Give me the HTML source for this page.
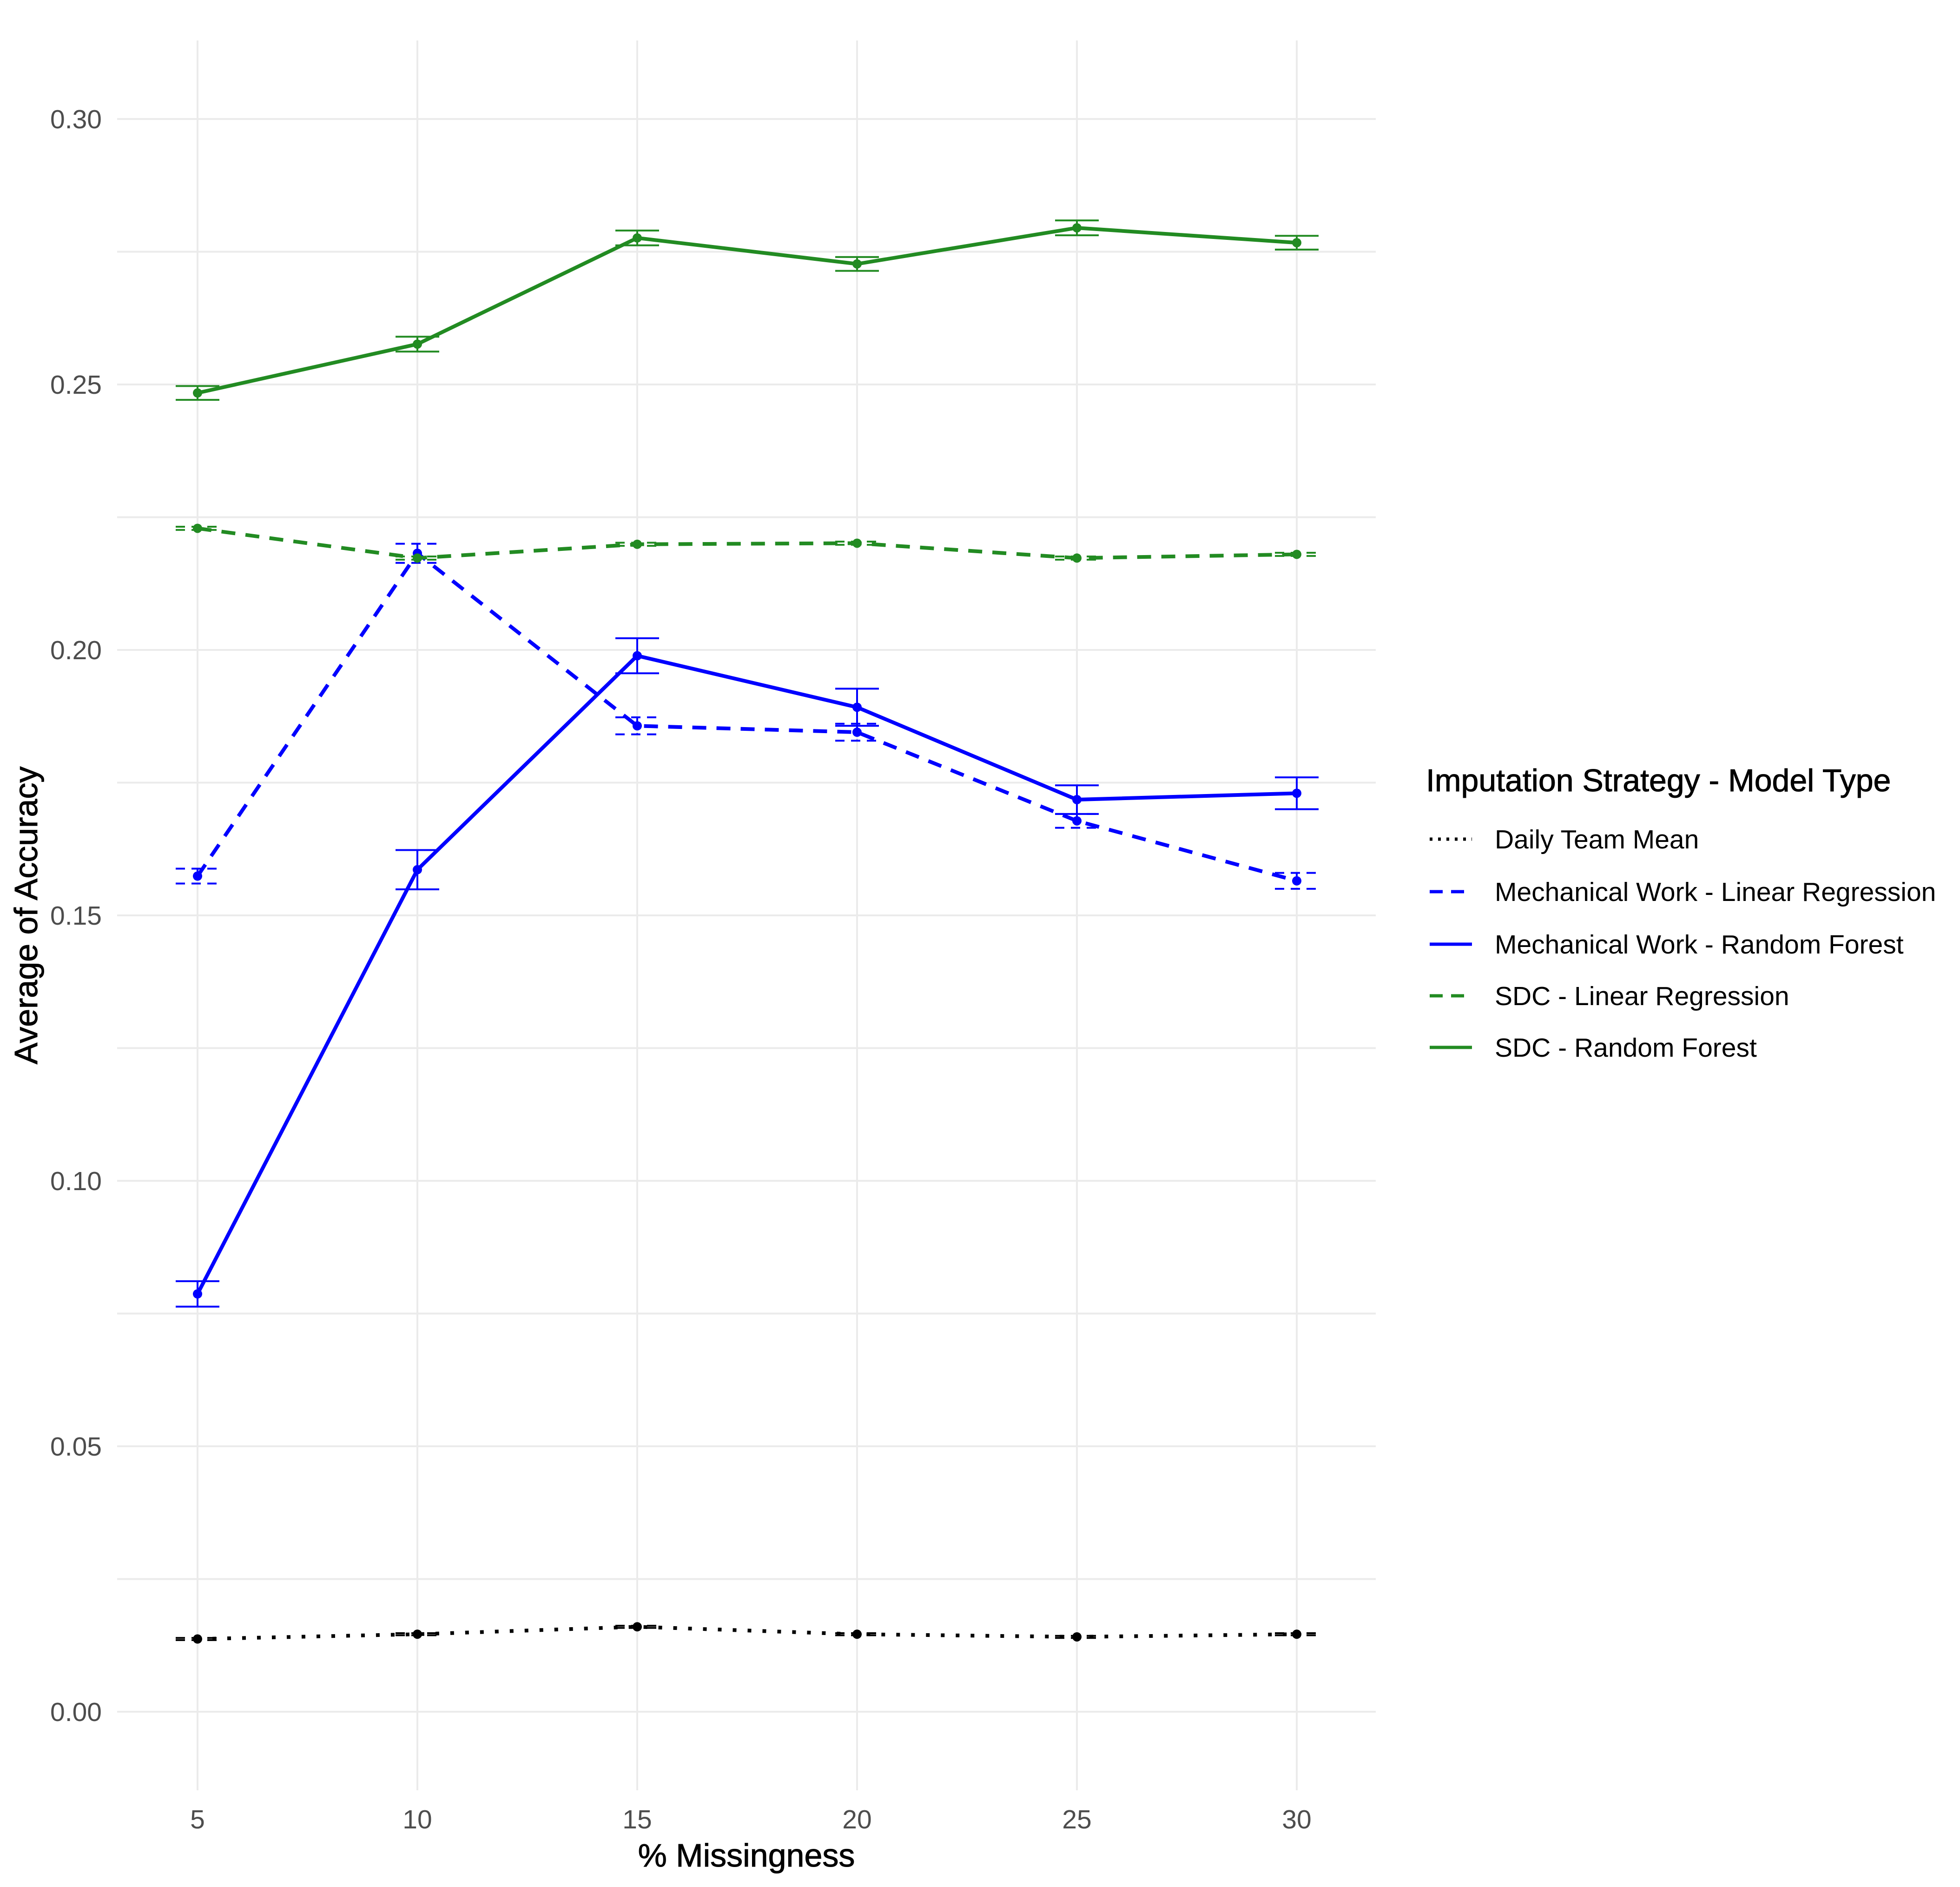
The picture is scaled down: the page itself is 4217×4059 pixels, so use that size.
<!DOCTYPE html>
<html><head><meta charset="utf-8"><style>
html,body{margin:0;padding:0;background:#fff;}
svg{display:block;font-family:"Liberation Sans",Arial,sans-serif;}
</style></head><body>
<svg id="chart" width="4217" height="4059" viewBox="0 0 4217 4059" xmlns="http://www.w3.org/2000/svg">
<rect width="4217" height="4059" fill="#fff"/>
<g id="grid"></g>
<g id="series"></g>
<g id="axes"></g>
<text x="1606" y="4015" font-size="70" text-anchor="middle" fill="#000" stroke="#000" stroke-width="1">% Missingness</text>
<text transform="translate(80,1969) rotate(-90)" font-size="70" text-anchor="middle" fill="#000" stroke="#000" stroke-width="1">Average of Accuracy</text>
<g id="legend"></g>
</svg>
<script>
const categories = [5, 10, 15, 20, 25, 30];
const yTicks = [0.00, 0.05, 0.10, 0.15, 0.20, 0.25, 0.30];
const yTickLabels = ["0.00","0.05","0.10","0.15","0.20","0.25","0.30"];
const seriesNames = ["Daily Team Mean","Mechanical Work - Linear Regression","Mechanical Work - Random Forest","SDC - Linear Regression","SDC - Random Forest"];
const dtmValues = [0.0137, 0.0146, 0.0160, 0.0146, 0.0141, 0.0146];
const dtmErr = [0.0002, 0.0002, 0.0002, 0.0002, 0.0002, 0.0002];
const mwlrValues = [0.1574, 0.2182, 0.1857, 0.1845, 0.1678, 0.1565];
const mwlrErr = [0.0014, 0.0018, 0.0016, 0.0016, 0.0013, 0.0015];
const mwrfValues = [0.0787, 0.1586, 0.1989, 0.1892, 0.1718, 0.1730];
const mwrfErr = [0.0024, 0.0037, 0.0033, 0.0035, 0.0027, 0.0030];
const sdclrValues = [0.2229, 0.2173, 0.2199, 0.2201, 0.2173, 0.2180];
const sdclrErr = [0.0003, 0.0003, 0.0003, 0.0003, 0.0003, 0.0003];
const sdcrfValues = [0.2484, 0.2576, 0.2776, 0.2727, 0.2795, 0.2767];
const sdcrfErr = [0.0013, 0.0014, 0.0014, 0.0013, 0.0014, 0.0013];

const NS = "http://www.w3.org/2000/svg";
const PL = 252, PR = 2960, PT = 87, PB = 3851;
function xs(v){ return 425 + (v - 5) * (2790 - 425) / 25; }
function ys(v){ return 3682 - v * (3682 - 256) / 0.30; }
function mk(tag, attrs, parent){ const e = document.createElementNS(NS, tag); for (const k in attrs) e.setAttribute(k, attrs[k]); parent.appendChild(e); return e; }

const grid = document.getElementById('grid');
for (let v = 0; v <= 0.3251; v += 0.025) {
  const y = ys(v);
  if (y < PT || y > PB) continue;
  const l = mk('line', {x1: PL, x2: PR, y1: y, y2: y, stroke: '#ebebeb', 'stroke-width': 4}, grid);
  
  
}
categories.forEach(c => {
  const l = mk('line', {x1: xs(c), x2: xs(c), y1: PT, y2: PB, stroke: '#ebebeb', 'stroke-width': 4}, grid);
  
  
});

const axes = document.getElementById('axes');
yTicks.forEach((t, i) => {
  const tx = mk('text', {x: 219, y: ys(t) + 20, 'font-size': 57, 'text-anchor': 'end', fill: '#4d4d4d'}, axes);
  tx.textContent = yTickLabels[i];
  
  
});
categories.forEach(c => {
  const tx = mk('text', {x: xs(c), y: 3933, 'font-size': 57, 'text-anchor': 'middle', fill: '#4d4d4d'}, axes);
  tx.textContent = String(c);
  
  
});

const seriesDefs = [
  {vals: dtmValues, err: dtmErr, color: '#000000', dash: '8,24', name: 'series-daily-team-mean'},
  {vals: mwlrValues, err: mwlrErr, color: '#0000ff', dash: '30,22', name: 'series-mw-linear-regression'},
  {vals: mwrfValues, err: mwrfErr, color: '#0000ff', dash: '', name: 'series-mw-random-forest'},
  {vals: sdclrValues, err: sdclrErr, color: '#228b22', dash: '30,22', name: 'series-sdc-linear-regression'},
  {vals: sdcrfValues, err: sdcrfErr, color: '#228b22', dash: '', name: 'series-sdc-random-forest'}
];
const sg = document.getElementById('series');
seriesDefs.forEach(s => {
  const g = mk('g', {}, sg);
  
  
  s.vals.forEach((v, i) => {
    const x = xs(categories[i]), y1 = ys(v + s.err[i]), y2 = ys(v - s.err[i]);
    const eb = mk('path', {d: `M${x-47},${y1}H${x+47}M${x},${y1}V${y2}M${x-47},${y2}H${x+47}`, stroke: s.color, 'stroke-width': 4, fill: 'none', 'stroke-dasharray': s.dash ? '20,14' : ''}, g);
    
    
  });
  const pts = s.vals.map((v, i) => `${xs(categories[i])},${ys(v)}`).join(' ');
  const pl = mk('polyline', {points: pts, fill: 'none', stroke: s.color, 'stroke-width': 8, 'stroke-dasharray': s.dash}, g);
  
  
  s.vals.forEach((v, i) => {
    const c = mk('circle', {cx: xs(categories[i]), cy: ys(v), r: 10, fill: s.color}, g);
    
    
  });
});

const lg = document.getElementById('legend');
const lt = mk('text', {x: 3068, y: 1702, 'font-size': 68, fill: '#000', stroke: '#000', 'stroke-width': 1}, lg);
lt.textContent = 'Imputation Strategy - Model Type';


const legendY = [1805, 1918, 2031, 2142, 2253];
seriesDefs.forEach((s, i) => {
  const g = mk('g', {}, lg);
  
  
  mk('line', {x1: 3076, x2: 3167, y1: legendY[i], y2: legendY[i], stroke: s.color, 'stroke-width': 7, 'stroke-dasharray': s.dash ? (i === 0 ? '6,12' : '28,18') : ''}, g);
  const t = mk('text', {x: 3216, y: legendY[i] + 20, 'font-size': 57, fill: '#000'}, g);
  t.textContent = seriesNames[i];
});
</script>
</body></html>
